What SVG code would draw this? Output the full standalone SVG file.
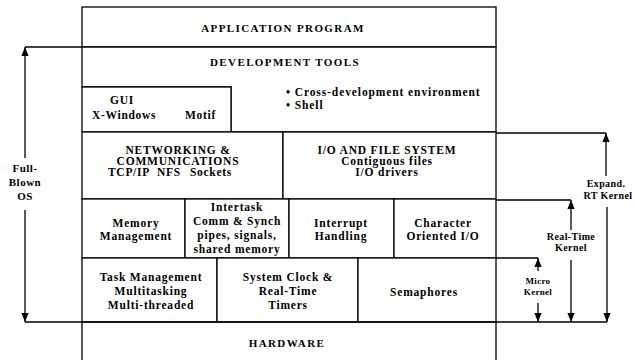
<svg xmlns="http://www.w3.org/2000/svg" width="638" height="360" viewBox="0 0 638 360">
<defs>
<style>
.box{fill:#fff;stroke:#000;stroke-width:1.3}
.ln{fill:none;stroke:#000;stroke-width:1.3}
text{font-family:"Liberation Serif","Times New Roman",serif;font-weight:bold;fill:#000}
.h{font-size:11px;letter-spacing:1.4px;text-anchor:middle}
.t{font-size:11.5px;letter-spacing:0.8px;text-anchor:middle}
.s{font-size:11.5px;letter-spacing:0.7px}
.b{font-size:11.5px;letter-spacing:0.9px}
.a{font-size:10px;letter-spacing:0.4px;text-anchor:middle}
.m{font-size:9px;letter-spacing:0.3px;text-anchor:middle}
.o{font-size:11px;letter-spacing:0.5px;text-anchor:middle}
</style>
<marker id="arr" viewBox="0 0 10 10" refX="10" refY="5" markerWidth="9" markerHeight="9" markerUnits="userSpaceOnUse" orient="auto">
<path d="M0,1 L10,5 L0,9 Z" fill="#000"/>
</marker>
</defs>
<rect width="638" height="360" fill="#fff"/>

<g id="application">
<rect class="box" x="82" y="7" width="414" height="40"/>
<text class="h" x="283" y="32">APPLICATION PROGRAM</text>
</g>
<g id="devtools">
<path class="box" d="M82,47 H496 V132 H231 V87 H82 Z"/>
<text class="h" x="285" y="66">DEVELOPMENT TOOLS</text>
<text class="b" x="286" y="96">• Cross-development environment</text>
<text class="b" x="286" y="109">• Shell</text>
</g>
<g id="gui">
<rect class="box" x="82" y="87" width="149" height="45"/>
<text class="t" x="122" y="104">GUI</text>
<text class="s" x="92" y="119">X-Windows</text>
<text class="s" x="185" y="119">Motif</text>
</g>
<g id="networking">
<rect class="box" x="82" y="132" width="201" height="67"/>
<text class="t" x="178" y="154">NETWORKING &amp;</text>
<text class="t" x="178" y="165">COMMUNICATIONS</text>
<text class="s" x="108" y="176">TCP/IP</text>
<text class="s" x="157" y="176">NFS</text>
<text class="s" x="190" y="176">Sockets</text>
</g>
<g id="iofs">
<rect class="box" x="283" y="132" width="213" height="67"/>
<text class="t" x="387" y="154">I/O AND FILE SYSTEM</text>
<text class="t" x="387" y="165">Contiguous files</text>
<text class="t" x="387" y="176">I/O drivers</text>
</g>
<g id="memory">
<rect class="box" x="82" y="199" width="103" height="59"/>
<text class="t" x="136" y="227">Memory</text>
<text class="t" x="136" y="240">Management</text>
</g>
<g id="intertask">
<rect class="box" x="185" y="199" width="104" height="59"/>
<text class="t" x="237" y="211">Intertask</text>
<text class="t" x="237" y="225">Comm &amp; Synch</text>
<text class="t" x="237" y="239">pipes, signals,</text>
<text class="t" x="237" y="253">shared memory</text>
</g>
<g id="interrupt">
<rect class="box" x="289" y="199" width="105" height="59"/>
<text class="t" x="341" y="227">Interrupt</text>
<text class="t" x="341" y="240">Handling</text>
</g>
<g id="chario">
<rect class="box" x="394" y="199" width="102" height="59"/>
<text class="t" x="443" y="227">Character</text>
<text class="t" x="443" y="240">Oriented I/O</text>
</g>
<g id="task">
<rect class="box" x="82" y="258" width="135" height="64"/>
<text class="t" x="151" y="281">Task Management</text>
<text class="t" x="151" y="295">Multitasking</text>
<text class="t" x="151" y="309">Multi-threaded</text>
</g>
<g id="sysclock">
<rect class="box" x="217" y="258" width="141" height="64"/>
<text class="t" x="288" y="281">System Clock &amp;</text>
<text class="t" x="288" y="295">Real-Time</text>
<text class="t" x="288" y="309">Timers</text>
</g>
<g id="semaphores">
<rect class="box" x="358" y="258" width="138" height="64"/>
<text class="t" x="424" y="296">Semaphores</text>
</g>
<g id="hardware">
<path class="ln" d="M82,361 V322 H496 V361"/>
<text class="h" x="287" y="347">HARDWARE</text>
</g>

<g id="connectors">
<path class="ln" d="M82,47 H25"/>
<path class="ln" d="M25,158 V47" marker-end="url(#arr)"/>
<path class="ln" d="M25,210 V322" marker-end="url(#arr)"/>
<path class="ln" d="M25,322 H82"/>
<path class="ln" d="M496,322 H607"/>
<path class="ln" d="M496,133 H606"/>
<path class="ln" d="M606,176 V133" marker-end="url(#arr)"/>
<path class="ln" d="M607,207 V322" marker-end="url(#arr)"/>
<path class="ln" d="M496,200 H571"/>
<path class="ln" d="M571,230 V200" marker-end="url(#arr)"/>
<path class="ln" d="M571,260 V322" marker-end="url(#arr)"/>
<path class="ln" d="M496,258 H538"/>
<path class="ln" d="M538,271 V258" marker-end="url(#arr)"/>
<path class="ln" d="M538,303 V322" marker-end="url(#arr)"/>
</g>
<g id="labels">
<text class="o" x="25" y="172">Full-</text>
<text class="o" x="25" y="186">Blown</text>
<text class="o" x="25" y="200">OS</text>
<text class="a" x="606" y="187">Expand.</text>
<text class="a" x="608" y="199">RT Kernel</text>
<text class="a" x="571" y="240">Real-Time</text>
<text class="a" x="571" y="251">Kernel</text>
<text class="m" x="538" y="284">Micro</text>
<text class="m" x="538" y="295">Kernel</text>
</g>
</svg>
